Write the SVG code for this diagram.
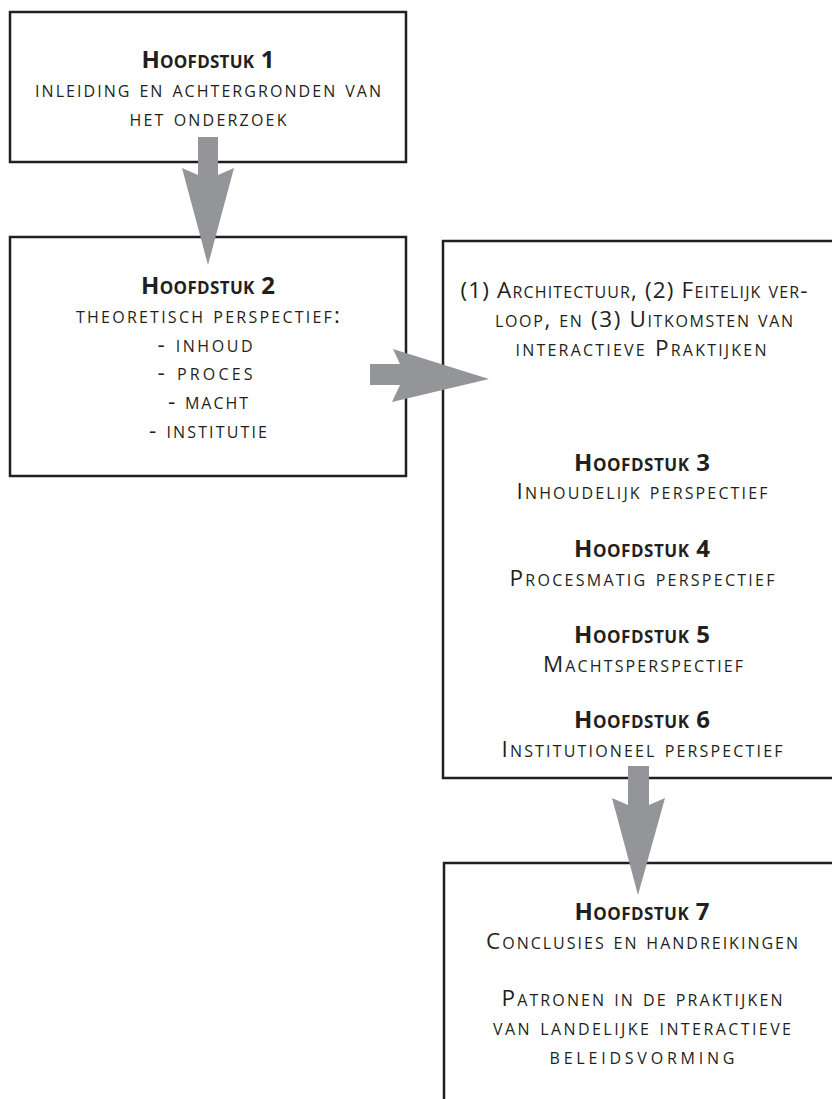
<svg xmlns="http://www.w3.org/2000/svg" width="832" height="1099" viewBox="0 0 832 1099">
<style>
.box{fill:#ffffff;stroke:#231f20;stroke-width:2.5}
.arrow{fill:#939598;stroke:none}
text{font-family:"Open Sans","Noto Sans","Liberation Sans",sans-serif;fill:#231f20;text-anchor:middle;font-variant:small-caps}
.t{font-size:24px;font-weight:bold}
.b{font-size:22.5px;font-weight:500}
</style>
<rect x="0" y="0" width="832" height="1099" fill="#ffffff"/>
<g id="node-h1">
<rect class="box" x="10" y="12" width="396" height="150"/>
<text class="t" x="208" y="68" textLength="133">Hoofdstuk 1</text>
<text class="b" x="208" y="97" textLength="346">inleiding en achtergronden van</text>
<text class="b" x="208" y="126" textLength="157">het onderzoek</text>
</g>
<g id="node-h2">
<rect class="box" x="10" y="237" width="396" height="239"/>
<text class="t" x="208" y="294" textLength="134">Hoofdstuk 2</text>
<text class="b" x="208" y="323" textLength="264">theoretisch perspectief:</text>
<text class="b" x="205" y="352" textLength="95">- inhoud</text>
<text class="b" x="205" y="380" textLength="95">- proces</text>
<text class="b" x="208" y="409" textLength="80">- macht</text>
<text class="b" x="208" y="438" textLength="118">- institutie</text>
</g>
<g id="node-h3-6">
<rect class="box" x="443" y="241" width="420" height="537"/>
<text class="b" x="634" y="298" textLength="347">(1) Architectuur, (2) Feitelijk ver-</text>
<text class="b" x="644" y="327" textLength="298">loop, en (3) Uitkomsten van</text>
<text class="b" x="641" y="356" textLength="251">interactieve Praktijken</text>
<text class="t" x="642" y="471" textLength="136">Hoofdstuk 3</text>
<text class="b" x="642" y="499" textLength="251">Inhoudelijk perspectief</text>
<text class="t" x="642" y="557" textLength="136">Hoofdstuk 4</text>
<text class="b" x="642" y="586" textLength="265">Procesmatig perspectief</text>
<text class="t" x="642" y="643" textLength="136">Hoofdstuk 5</text>
<text class="b" x="643" y="672" textLength="200">Machtsperspectief</text>
<text class="t" x="642" y="728" textLength="136">Hoofdstuk 6</text>
<text class="b" x="642" y="757" textLength="281">Institutioneel perspectief</text>
</g>
<g id="node-h7">
<rect class="box" x="444" y="863" width="420" height="260"/>
<text class="t" x="642" y="920" textLength="135">Hoofdstuk 7</text>
<text class="b" x="642" y="949" textLength="312">Conclusies en handreikingen</text>
<text class="b" x="642" y="1006" textLength="281">Patronen in de praktijken</text>
<text class="b" x="642" y="1035" textLength="298">van landelijke interactieve</text>
<text class="b" x="642" y="1064" textLength="185">beleidsvorming</text>
</g>
<g id="connectors">
<polygon class="arrow" points="198,137 218,137 218,175 234,168 208,265 182,168 198,175"/>
<polygon class="arrow" points="370,364 400,364 393,349 489,379 392,402 400,385 370,385"/>
<polygon class="arrow" points="628,766 649,766 649,805 665,798 638,895 612,798 628,805"/>
</g>
</svg>
